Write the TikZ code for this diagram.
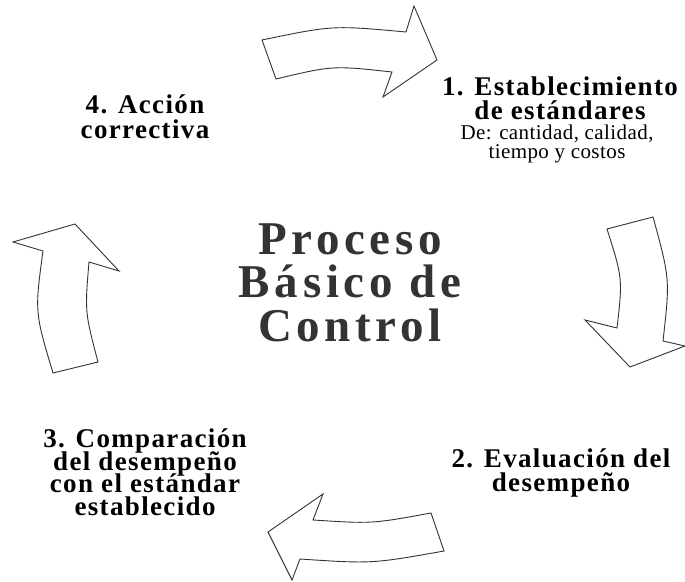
\documentclass[tikz,border=0pt]{standalone}
\usepackage{fontspec}
\setmainfont{Liberation Serif}
\newfontfamily\lblfont[LetterSpace=5]{Liberation Serif}
\newfontfamily\bigfont[LetterSpace=10]{Liberation Serif}
\newfontfamily\subfont[LetterSpace=2]{Liberation Serif}
\definecolor{centergray}{HTML}{333333}
\newcommand\tightlines{\lineskiplimit -100pt\relax}
\begin{document}
\begin{tikzpicture}[x=1pt,y=-1pt,
  arr/.style={draw=black!80, line width=0.9pt, fill=white, line join=miter},
  lbl/.style={font=\lblfont\bfseries\fontsize{27}{24}\selectfont\tightlines, align=center, inner sep=0pt, anchor=base, text=black},
  sublbl/.style={font=\subfont\fontsize{21}{19}\selectfont\tightlines, align=center, inner sep=0pt, anchor=base, text=black},
  bigtxt/.style={font=\bigfont\bfseries\fontsize{47}{43.5}\selectfont\tightlines, align=center, inner sep=0pt, anchor=base, text=centergray}]
\useasboundingbox (0,0) rectangle (685,581);
% top arrow (4 -> 1)
\path[arr] (262,40) .. controls (332.7,25.3) .. (406,32) -- (414,6) -- (437,60) -- (383,97) -- (392,72)
  .. controls (332.7,65.5) .. (276,79) -- cycle;
% right arrow (1 -> 2)
\path[arr] (607,229) -- (653,217) .. controls (670,279) .. (663,341) -- (685,346) -- (630,367) -- (585,320) -- (617,328)
  .. controls (622.7,278.5) .. cycle;
% bottom arrow (2 -> 3)
\path[arr] (431,513) .. controls (372,523.8) .. (313,520) -- (323,494) -- (268,532) -- (292,580) -- (300,559)
  .. controls (372,563.8) .. (444,551) -- cycle;
% left arrow (3 -> 4)
\path[arr] (53,373) -- (98,362) .. controls (84.8,312) .. (89,262) -- (119,271) -- (75,224) -- (13,242) -- (43,251)
  .. controls (34.7,312) .. cycle;
% labels (anchor = baseline of last line)
\node[lbl] (s1) at (560,119.5) {1. Establecimiento\\de estándares};
\node[sublbl] (s1d) at (557,158) {De: cantidad, calidad,\\tiempo y costos};
\node[lbl] (s2) at (561,491) {2. Evaluación del\\desempeño};
\node[lbl,font=\lblfont\bfseries\fontsize{27}{22.5}\selectfont\tightlines] (s3) at (145,515) {3. Comparación\\del desempeño\\con el estándar\\establecido};
\node[lbl,font=\lblfont\bfseries\fontsize{27}{25}\selectfont\tightlines] (s4) at (145,138) {4. Acción\\correctiva};
\node[bigtxt] (c) at (350,341) {Proceso\\Básico de\\Control};
\end{tikzpicture}
\end{document}
